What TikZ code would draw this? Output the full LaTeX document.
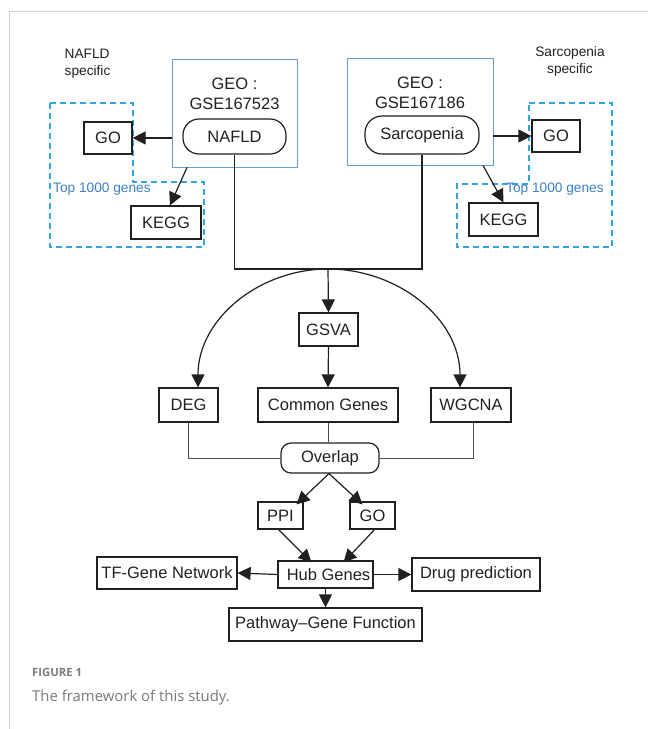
\documentclass[tikz,border=0pt]{standalone}
\usepackage{fontspec}
\setmainfont{Liberation Sans}
\newfontfamily\capfont{Open Sans}
\usetikzlibrary{arrows.meta}
\definecolor{ink}{HTML}{231F20}
\definecolor{geoblue}{HTML}{6A9BD3}
\definecolor{dashblue}{HTML}{2EA7E0}
\definecolor{topblue}{HTML}{3B7FC6}
\definecolor{framegray}{HTML}{CFCFCF}
\definecolor{capgray}{HTML}{7A7A7A}
\tikzset{
  box/.style={draw=ink, line width=1.2pt, inner sep=0pt, text=ink, font=\fontsize{16.5}{19}\selectfont},
  pill/.style={box, rounded corners=12pt},
  geobox/.style={draw=geoblue, line width=0.9pt, inner sep=0pt},
  arr/.style={draw=ink, line width=1.2pt, -{Triangle[length=13pt,width=13pt]}},
  thin/.style={draw=ink!80, line width=0.8pt},
  lbl/.style={inner sep=0pt, text=ink, font=\fontsize{13.7}{17}\selectfont},
  toplbl/.style={inner sep=0pt, text=topblue, font=\fontsize{13.7}{16}\selectfont},
  dashreg/.style={draw=dashblue, line width=1.1pt, dash pattern=on 6pt off 4pt},
}
\begin{document}
\begin{tikzpicture}[x=1pt,y=-1pt]
\useasboundingbox (0,0) rectangle (648,729);
% page frame
\draw[framegray, line width=0.8pt] (9,729) -- (9,11) -- (648,11);

% ---------- left (NAFLD) ----------
\node[geobox, minimum width=125pt, minimum height=108pt] (geoL) at (234.5,113) {};
\node[lbl, font=\fontsize{16.5}{20}\selectfont, align=center] (geoLt) at (234.5,94) {GEO :\\GSE167523};
\node[pill, minimum width=103pt, minimum height=35pt, rounded corners=16pt] (nafld) at (234.5,136.5) {NAFLD};
\node[lbl, anchor=west, align=left] (specL) at (64.5,63.5) {NAFLD\\specific};
\draw[dashreg] (50,103) -- (133,103) -- (133,182) -- (204,182) -- (204,247) -- (50,247) -- cycle;
\node[box, minimum width=48pt, minimum height=32pt] (goL) at (108,138) {GO};
\node[box, minimum width=70pt, minimum height=33pt] (keggL) at (166,222.5) {KEGG};
\node[toplbl, anchor=west] (topL) at (53,189) {Top 1000 genes};
\draw[arr] (geoL.west |- goL.east) -- (goL.east);
\draw[arr] ([xshift=-47.5pt]geoL.south) -- ([xshift=4pt]keggL.north);

% ---------- right (Sarcopenia) ----------
\node[geobox, minimum width=146pt, minimum height=107pt] (geoR) at (420,111.5) {};
\node[lbl, font=\fontsize{16.5}{20}\selectfont, align=center] (geoRt) at (420,92.5) {GEO :\\GSE167186};
\node[pill, minimum width=114pt, minimum height=38pt, rounded corners=17pt] (sarc) at (422,135) {Sarcopenia};
\node[lbl, align=center] (specR) at (570,61.5) {Sarcopenia\\specific};
\draw[dashreg] (529,103) -- (612,103) -- (612,247) -- (457,247) -- (457,184) -- (529,184) -- cycle;
\node[box, minimum width=48pt, minimum height=32pt] (goR) at (556,136) {GO};
\node[box, minimum width=69pt, minimum height=33pt] (keggR) at (503.5,219.5) {KEGG};
\node[toplbl, anchor=west] (topR) at (506,189) {Top 1000 genes};
\draw[arr] (geoR.east |- goR.west) -- (goR.west);
\draw[arr] ([xshift=63pt]geoR.south) -- (keggR.north);

% ---------- join ----------
\coordinate (J) at (328,269);
\draw[draw=ink, line width=1.2pt] (nafld.south) |- (J) -| (sarc.south);

\node[box, minimum width=59pt, minimum height=33pt] (gsva) at (328.5,329.5) {GSVA};
\node[box, minimum width=140pt, minimum height=34pt] (common) at (328,405) {Common Genes};
\node[box, minimum width=59pt, minimum height=34pt] (deg) at (188.5,405) {DEG};
\node[box, minimum width=80pt, minimum height=34pt] (wgcna) at (471,405) {WGCNA};

\draw[arr] (J) -- (gsva.north);
\draw[arr] (gsva.south) -- (common.north);
\draw[arr] (J) to[out=180,in=90] ([xshift=9.5pt]deg.north);
\draw[arr] (J) to[out=0,in=90] ([xshift=-11pt]wgcna.north);

\node[pill, minimum width=98pt, minimum height=30pt, rounded corners=10pt] (ovl) at (330,458) {Overlap};
\draw[thin] (deg.south) |- (ovl.west);
\draw[thin] (common.south) -- (common.south |- ovl.north);
\draw[thin] ([xshift=2pt]wgcna.south) |- (ovl.east);

\node[box, minimum width=45pt, minimum height=27pt] (ppi) at (280.5,515.5) {PPI};
\node[box, minimum width=45pt, minimum height=27pt] (go2) at (372.5,515.5) {GO};
\draw[arr] ([xshift=-1pt]ovl.south) -- ([xshift=16pt,yshift=-3pt]ppi.north);
\draw[arr] ([xshift=-1pt]ovl.south) -- ([xshift=-10pt,yshift=-3pt]go2.north);

\node[box, minimum width=95pt, minimum height=27pt] (hub) at (325.5,574.5) {\hspace*{6pt}Hub Genes};
\draw[arr] ([xshift=-2pt]ppi.south) -- ([xshift=-14pt,yshift=-2pt]hub.north);
\draw[arr] ([xshift=2pt]go2.south) -- ([xshift=18pt,yshift=-2pt]hub.north);

\node[box, minimum width=140pt, minimum height=32pt] (tf) at (167,573) {TF-Gene Network};
\node[box, minimum width=128pt, minimum height=33pt] (drug) at (476,574.5) {Drug prediction};
\node[box, minimum width=193pt, minimum height=33pt] (path) at (325.5,624.5) {Pathway–Gene Function};
\draw[arr] (hub.west) -- (tf.east);
\draw[arr] (hub.east) -- (drug.west);
\draw[arr] (hub.south) -- (path.north);

% ---------- caption ----------
\node[anchor=base west, inner sep=0pt, text=capgray, font=\capfont\bfseries\fontsize{11.3}{14}\selectfont] (figlbl) at (32,676.5) {FIGURE 1};
\node[anchor=base west, inner sep=0pt, text=capgray, font=\capfont\fontsize{14.9}{18}\selectfont] (figcap) at (32,701.5) {The framework of this study.};
\end{tikzpicture}
\end{document}
